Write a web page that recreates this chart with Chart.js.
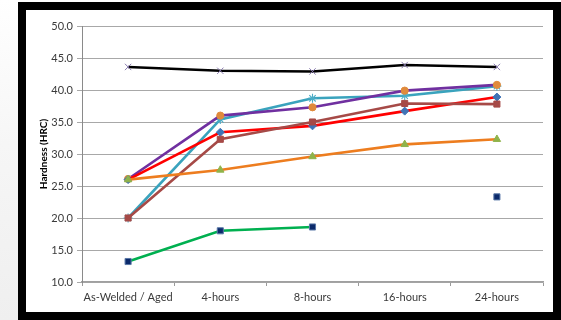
<!DOCTYPE html>
<html>
<head>
<meta charset="utf-8">
<script src="https://cdn.jsdelivr.net/npm/chart.js@4.4.1/dist/chart.umd.min.js"></script>
<style>
  html, body { margin: 0; padding: 0; }
  body {
    width: 561px; height: 320px; overflow: hidden; position: relative;
    background: linear-gradient(180deg, #ffffff 0%, #f6f6f6 45%, #efefef 100%);
  }
  #frame {
    position: absolute; left: 18px; top: 2px; width: 543px; height: 318px;
    box-sizing: border-box; border: 8px solid #000; background: #fff;
  }
  #chart { position: absolute; left: 0; top: 0; }
</style>
</head>
<body>
<div id="frame"></div>
<canvas id="chart" width="561" height="320"></canvas>
<script>
// Aging time steps on the x axis
const categories = ['As-Welded / Aged', '4-hours', '8-hours', '16-hours', '24-hours'];

// Hardness readings (HRC) for each sample series
const seriesBlackX      = [43.6, 43.0, 42.9, 43.9, 43.6];
const seriesPurpleCirc  = [26.1, 36.0, 37.3, 39.9, 40.8];
const seriesCyanStar    = [20.0, 35.4, 38.7, 39.1, 40.6];
const seriesRedDiamond  = [26.0, 33.4, 34.4, 36.7, 38.9];
const seriesBrownSquare = [20.0, 32.3, 35.0, 37.9, 37.8];
const seriesOrangeTri   = [26.0, 27.5, 29.6, 31.5, 32.3];
const seriesGreenSquare = [13.2, 18.0, 18.6, null, 23.3];

// Y axis range and step
const yMin = 10, yMax = 50, yStep = 5;

const FONT = 'Lato, "Liberation Sans", sans-serif';

function line(data, lineColor, style, ptColor, ptBorder, radius, bw) {
  return {
    data: data,
    borderColor: lineColor,
    backgroundColor: ptColor,
    borderWidth: 2.6,
    pointStyle: style,
    pointRadius: radius,
    pointHoverRadius: radius,
    pointBackgroundColor: ptColor,
    pointBorderColor: ptBorder,
    pointBorderWidth: bw,
    tension: 0,
    spanGaps: false,
    fill: false
  };
}

const datasets = [
  line(seriesGreenSquare, '#00b050', 'rect', '#0b2a6b', '#5a78a8', 4.3, 1),
  line(seriesOrangeTri, '#ed7d1f', 'triangle', '#8fb34a', '#8fb34a', 4.3, 1),
  line(seriesBrownSquare, '#a64a47', 'rect', '#a64a47', '#a64a47', 4.3, 1),
  line(seriesRedDiamond, '#ff0000', 'rectRot', '#3f73b6', '#3f73b6', 4, 1),
  line(seriesPurpleCirc, '#7030a0', 'circle', '#e08a3c', '#e08a3c', 3.6, 1),
  line(seriesCyanStar, '#3aa3bd', 'star', '#4bacc6', '#4bacc6', 4.5, 1.1),
  line(seriesBlackX, '#000000', 'crossRot', '#8a7cb0', '#8a7cb0', 4.5, 1)
];

new Chart(document.getElementById('chart'), {
  type: 'line',
  data: { labels: categories, datasets: datasets },
  options: {
    responsive: false,
    animation: false,
    events: [],
    layout: { padding: { left: 30, right: 18, top: 26, bottom: 16 } },
    plugins: { legend: { display: false }, tooltip: { enabled: false } },
    scales: {
      x: {
        offset: true,
        grid: { offset: true, drawOnChartArea: false, drawTicks: true, tickLength: 4, color: '#9a9a9a' },
        border: { color: '#a0a0a0', width: 1.5 },
        ticks: { color: '#3a3a3a', font: { family: FONT, size: 11 }, padding: 5, maxRotation: 0, autoSkip: false },
        afterFit: s => { s.height = 22; }
      },
      y: {
        min: yMin, max: yMax,
        grid: { color: '#a8a8a8', lineWidth: 1, drawTicks: true, tickLength: 5 },
        border: { color: '#8a8a8a', width: 1 },
        ticks: {
          stepSize: yStep, color: '#3a3a3a', padding: 4,
          font: { family: FONT, size: 11 },
          callback: v => Number(v).toFixed(1)
        },
        title: {
          display: true, text: 'Hardness (HRC)', color: '#000000',
          font: { family: FONT, size: 10, weight: 'bold' },
          padding: { top: 8, bottom: 0 }
        },
        afterFit: s => { s.width = 52; }
      }
    }
  }
});
</script>
</body>
</html>
